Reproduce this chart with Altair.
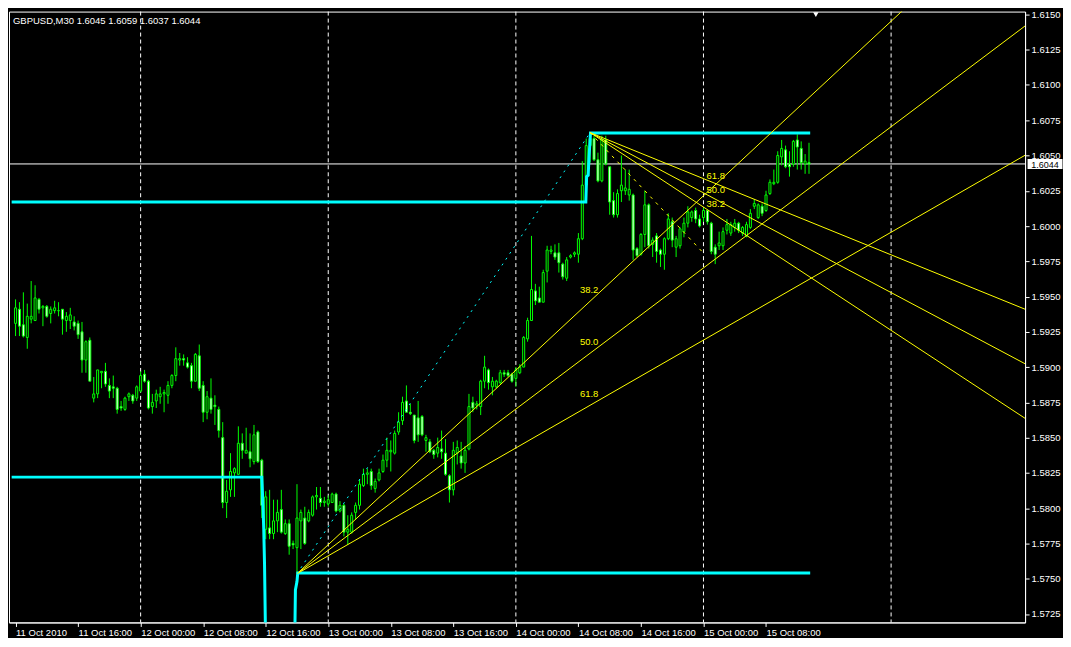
import altair as alt
import pandas as pd

W, H = 1018, 612

# ---- M30 candles, bar 0 = 11 Oct 2010 08:00 ----
opens = [1.5931, 1.5941, 1.5930, 1.5921, 1.5934, 1.5933, 1.5948, 1.5942, 1.5943, 1.5938,
         1.5940, 1.5940, 1.5941, 1.5933, 1.5933, 1.5932, 1.5931, 1.5925, 1.5905, 1.5919,
         1.5878, 1.5881, 1.5896, 1.5897, 1.5887, 1.5886, 1.5885, 1.5872, 1.5870, 1.5879,
         1.5880, 1.5878, 1.5883, 1.5895, 1.5890, 1.5872, 1.5876, 1.5879, 1.5881, 1.5880,
         1.5887, 1.5894, 1.5905, 1.5906, 1.5903, 1.5901, 1.5890, 1.5908, 1.5887, 1.5868,
         1.5878, 1.5873, 1.5870, 1.5850, 1.5804, 1.5813, 1.5825, 1.5824, 1.5846, 1.5839,
         1.5840, 1.5833, 1.5854, 1.5834, 1.5785, 1.5786, 1.5782, 1.5791, 1.5799, 1.5782,
         1.5789, 1.5775, 1.5772, 1.5791, 1.5793, 1.5791, 1.5795, 1.5808, 1.5807, 1.5804,
         1.5803, 1.5804, 1.5810, 1.5798, 1.5802, 1.5783, 1.5783, 1.5797, 1.5802, 1.5816,
         1.5824, 1.5826, 1.5814, 1.5820, 1.5826, 1.5834, 1.5840, 1.5839, 1.5854, 1.5862,
         1.5876, 1.5868, 1.5866, 1.5864, 1.5865, 1.5848, 1.5847, 1.5841, 1.5839, 1.5842,
         1.5839, 1.5823, 1.5813, 1.5839, 1.5837, 1.5832, 1.5842, 1.5875, 1.5873, 1.5872,
         1.5890, 1.5898, 1.5886, 1.5886, 1.5889, 1.5896, 1.5896, 1.5895, 1.5892, 1.5896,
         1.5900, 1.5920, 1.5933, 1.5954, 1.5949, 1.5946, 1.5968, 1.5982, 1.5981, 1.5981,
         1.5973, 1.5963, 1.5978, 1.5980, 1.5980, 1.5991, 1.6029, 1.6057, 1.6062, 1.6047,
         1.6032, 1.6061, 1.6042, 1.6018, 1.6008, 1.6025, 1.6025, 1.6022, 1.6022, 1.5984,
         1.5980, 1.5994, 1.6015, 1.5987, 1.5993, 1.5983, 1.5980, 1.5991, 1.6003, 1.5985,
         1.5986, 1.5996, 1.6002, 1.6006, 1.6011, 1.6005, 1.6006, 1.6011, 1.6002, 1.5985,
         1.5986, 1.5986, 1.5997, 1.5995, 1.5999, 1.6002, 1.5995, 1.5993, 1.5999, 1.6014,
         1.6006, 1.6014, 1.6011, 1.6023, 1.6030, 1.6031, 1.6049, 1.6054, 1.6044, 1.6044,
         1.6061, 1.6055, 1.6044, 1.6045]
highs = [1.5948, 1.5946, 1.5953, 1.5945, 1.5961, 1.5958, 1.5949, 1.5944, 1.5944, 1.5943,
         1.5947, 1.5946, 1.5941, 1.5939, 1.5942, 1.5936, 1.5933, 1.5932, 1.5919, 1.5921,
         1.5893, 1.5898, 1.5897, 1.5903, 1.5892, 1.5894, 1.5886, 1.5876, 1.5879, 1.5882,
         1.5881, 1.5887, 1.5897, 1.5898, 1.5891, 1.5881, 1.5884, 1.5886, 1.5884, 1.5890,
         1.5895, 1.5914, 1.5910, 1.5909, 1.5907, 1.5903, 1.5910, 1.5916, 1.5890, 1.5883,
         1.5892, 1.5880, 1.5872, 1.5861, 1.5820, 1.5839, 1.5829, 1.5858, 1.5853, 1.5857,
         1.5853, 1.5859, 1.5855, 1.5835, 1.5812, 1.5813, 1.5806, 1.5806, 1.5813, 1.5792,
         1.5792, 1.5777, 1.5817, 1.5799, 1.5801, 1.5799, 1.5809, 1.5815, 1.5815, 1.5808,
         1.5809, 1.5811, 1.5811, 1.5805, 1.5803, 1.5795, 1.5797, 1.5804, 1.5820, 1.5828,
         1.5828, 1.5828, 1.5821, 1.5828, 1.5838, 1.5850, 1.5848, 1.5855, 1.5868, 1.5879,
         1.5887, 1.5874, 1.5866, 1.5876, 1.5866, 1.5852, 1.5849, 1.5842, 1.5850, 1.5855,
         1.5849, 1.5824, 1.5847, 1.5848, 1.5847, 1.5844, 1.5881, 1.5879, 1.5876, 1.5891,
         1.5908, 1.5899, 1.5893, 1.5891, 1.5898, 1.5898, 1.5898, 1.5896, 1.5900, 1.5902,
         1.5922, 1.5935, 1.5993, 1.5959, 1.5957, 1.5969, 1.5986, 1.5986, 1.5987, 1.5988,
         1.5974, 1.5978, 1.5980, 1.5982, 1.5995, 1.6046, 1.6062, 1.6066, 1.6064, 1.6052,
         1.6064, 1.6064, 1.6042, 1.6024, 1.6026, 1.6050, 1.6040, 1.6040, 1.6023, 1.5985,
         1.5995, 1.6025, 1.6016, 1.5992, 1.5995, 1.5984, 1.5992, 1.6009, 1.6006, 1.5993,
         1.5999, 1.6006, 1.6014, 1.6011, 1.6013, 1.6008, 1.6013, 1.6011, 1.6003, 1.5987,
         1.5996, 1.5999, 1.6005, 1.6003, 1.6005, 1.6003, 1.6000, 1.6003, 1.6012, 1.6019,
         1.6016, 1.6016, 1.6025, 1.6033, 1.6040, 1.6053, 1.6061, 1.6057, 1.6053, 1.6061,
         1.6065, 1.6060, 1.6051, 1.6059]
lows = [1.5922, 1.5922, 1.5921, 1.5913, 1.5931, 1.5933, 1.5938, 1.5929, 1.5935, 1.5931,
        1.5938, 1.5936, 1.5923, 1.5925, 1.5927, 1.5926, 1.5920, 1.5896, 1.5896, 1.5890,
        1.5875, 1.5878, 1.5885, 1.5886, 1.5878, 1.5878, 1.5867, 1.5869, 1.5869, 1.5876,
        1.5874, 1.5876, 1.5882, 1.5889, 1.5870, 1.5867, 1.5871, 1.5874, 1.5868, 1.5874,
        1.5885, 1.5890, 1.5901, 1.5901, 1.5899, 1.5885, 1.5890, 1.5883, 1.5861, 1.5863,
        1.5867, 1.5859, 1.5850, 1.5800, 1.5793, 1.5808, 1.5808, 1.5824, 1.5835, 1.5839,
        1.5829, 1.5831, 1.5832, 1.5793, 1.5778, 1.5778, 1.5778, 1.5783, 1.5782, 1.5781,
        1.5767, 1.5771, 1.5754, 1.5771, 1.5774, 1.5790, 1.5794, 1.5799, 1.5801, 1.5801,
        1.5801, 1.5804, 1.5797, 1.5797, 1.5780, 1.5774, 1.5782, 1.5792, 1.5799, 1.5815,
        1.5817, 1.5813, 1.5811, 1.5819, 1.5825, 1.5829, 1.5826, 1.5838, 1.5852, 1.5859,
        1.5868, 1.5866, 1.5846, 1.5847, 1.5851, 1.5840, 1.5839, 1.5835, 1.5836, 1.5835,
        1.5823, 1.5804, 1.5809, 1.5831, 1.5828, 1.5825, 1.5841, 1.5868, 1.5870, 1.5866,
        1.5885, 1.5884, 1.5880, 1.5885, 1.5888, 1.5893, 1.5893, 1.5889, 1.5886, 1.5895,
        1.5900, 1.5918, 1.5933, 1.5944, 1.5946, 1.5946, 1.5960, 1.5980, 1.5976, 1.5967,
        1.5962, 1.5961, 1.5977, 1.5978, 1.5974, 1.5990, 1.6022, 1.6045, 1.6046, 1.6031,
        1.6031, 1.6043, 1.6008, 1.6006, 1.6006, 1.6017, 1.6022, 1.6018, 1.5976, 1.5978,
        1.5979, 1.5985, 1.5984, 1.5978, 1.5974, 1.5971, 1.5969, 1.5990, 1.5985, 1.5978,
        1.5984, 1.5992, 1.5999, 1.6003, 1.6002, 1.5999, 1.6003, 1.6001, 1.5980, 1.5973,
        1.5983, 1.5983, 1.5994, 1.5993, 1.5996, 1.5995, 1.5993, 1.5992, 1.5998, 1.6012,
        1.6005, 1.6007, 1.6010, 1.6022, 1.6029, 1.6030, 1.6043, 1.6041, 1.6035, 1.6042,
        1.6040, 1.6040, 1.6037, 1.6037]
closes = [1.5942, 1.5929, 1.5922, 1.5936, 1.5936, 1.5949, 1.5941, 1.5943, 1.5936, 1.5941,
          1.5942, 1.5940, 1.5934, 1.5936, 1.5937, 1.5929, 1.5923, 1.5905, 1.5918, 1.5890,
          1.5881, 1.5898, 1.5897, 1.5888, 1.5883, 1.5885, 1.5870, 1.5871, 1.5878, 1.5881,
          1.5876, 1.5886, 1.5894, 1.5890, 1.5871, 1.5875, 1.5881, 1.5881, 1.5882, 1.5887,
          1.5894, 1.5906, 1.5906, 1.5905, 1.5900, 1.5890, 1.5909, 1.5885, 1.5868, 1.5879,
          1.5870, 1.5872, 1.5855, 1.5804, 1.5812, 1.5826, 1.5828, 1.5846, 1.5841, 1.5841,
          1.5835, 1.5852, 1.5833, 1.5802, 1.5808, 1.5782, 1.5791, 1.5797, 1.5783, 1.5789,
          1.5773, 1.5774, 1.5793, 1.5797, 1.5775, 1.5797, 1.5808, 1.5809, 1.5804, 1.5805,
          1.5806, 1.5810, 1.5798, 1.5802, 1.5783, 1.5785, 1.5795, 1.5802, 1.5817, 1.5824,
          1.5825, 1.5816, 1.5819, 1.5825, 1.5834, 1.5841, 1.5841, 1.5853, 1.5861, 1.5875,
          1.5868, 1.5867, 1.5848, 1.5852, 1.5852, 1.5850, 1.5840, 1.5838, 1.5843, 1.5840,
          1.5824, 1.5813, 1.5841, 1.5843, 1.5832, 1.5841, 1.5872, 1.5871, 1.5874, 1.5890,
          1.5900, 1.5889, 1.5890, 1.5890, 1.5896, 1.5895, 1.5894, 1.5890, 1.5898, 1.5900,
          1.5921, 1.5933, 1.5955, 1.5947, 1.5946, 1.5967, 1.5983, 1.5983, 1.5978, 1.5974,
          1.5964, 1.5976, 1.5979, 1.5981, 1.5991, 1.6029, 1.6057, 1.6062, 1.6047, 1.6032,
          1.6061, 1.6044, 1.6017, 1.6008, 1.6023, 1.6029, 1.6027, 1.6026, 1.5983, 1.5979,
          1.5994, 1.6015, 1.5986, 1.5990, 1.5982, 1.5980, 1.5991, 1.6005, 1.5990, 1.5991,
          1.5998, 1.6002, 1.6010, 1.6010, 1.6005, 1.6000, 1.6011, 1.6003, 1.5982, 1.5980,
          1.5988, 1.5996, 1.6001, 1.6001, 1.6002, 1.5997, 1.5999, 1.6001, 1.6009, 1.6016,
          1.6015, 1.6009, 1.6022, 1.6031, 1.6031, 1.6050, 1.6055, 1.6042, 1.6042, 1.6060,
          1.6056, 1.6045, 1.6046, 1.6044]

# ---- axes ----
time_labels = ["11 Oct 2010", "11 Oct 16:00", "12 Oct 00:00", "12 Oct 08:00", "12 Oct 16:00",
               "13 Oct 00:00", "13 Oct 08:00", "13 Oct 16:00", "14 Oct 00:00", "14 Oct 08:00",
               "14 Oct 16:00", "15 Oct 00:00", "15 Oct 08:00"]
label_bars = [0, 16, 32, 48, 64, 80, 96, 112, 128, 144, 160, 176, 192]
separator_bars = [32, 80, 128, 176, 224]
price_ticks = [1.5725, 1.5750, 1.5775, 1.5800, 1.5825, 1.5850, 1.5875, 1.5900, 1.5925,
               1.5950, 1.5975, 1.6000, 1.6025, 1.6050, 1.6075, 1.6100, 1.6125, 1.6150]

bid_price = 1.6044
title_text = "GBPUSD,M30  1.6045 1.6059 1.6037 1.6044"
shift_marker_bar = 204.75

# ---- Fibonacci fans ----
fan_levels = [38.2, 50.0, 61.8]
fan1_bars = [72, 147]
fan1_prices = [1.57535, 1.60662]
fan2_bars = [147, 176]
fan2_prices = [1.60662, 1.59808]

# ---- cyan level lines ----
cyanA_bars = [-1, 145.9, 146.1, 146.5, 146.7, 147.1, 203.3]
cyanA_prices = [1.6017, 1.6017, 1.6035, 1.6036, 1.6048, 1.6066, 1.6066]
cyanB_bars = [-1, 63.0, 63.3, 63.5, 63.7, 64.0, 71.4, 71.6, 72.0, 72.2, 203.3]
cyanB_prices = [1.5822, 1.5822, 1.5802, 1.5785, 1.5760, 1.5700, 1.5700, 1.5742, 1.5748, 1.5754, 1.5754]

# ---------------------------------------------------------------
candles = pd.DataFrame({"bar": list(range(len(opens))), "open": opens, "high": highs,
                        "low": lows, "close": closes})

xs = alt.Scale(domain=[-0.4, 257], nice=False, zero=False)
ys = alt.Scale(domain=[1.5719, 1.6152], nice=False, zero=False)
label_expr = "[" + ",".join("'%s'" % t for t in time_labels) + "][round(datum.value/16)]"
xaxis = alt.Axis(values=label_bars, labelExpr=label_expr, title=None, grid=False,
                 labelAlign="left", labelBaseline="top", labelPadding=1, tickSize=4,
                 labelOverlap=False, labelFlush=False)
yaxis = alt.Axis(orient="right", values=price_ticks, format=".4f", title=None, grid=False,
                 tickSize=4, labelPadding=2, labelOverlap=False, labelFlush=False)


def X(field):
    return alt.X(field, type="quantitative", scale=xs, axis=xaxis)


def Y(field):
    return alt.Y(field, type="quantitative", scale=ys, axis=yaxis)


FONT = "Liberation Sans"

sep = alt.Chart(pd.DataFrame({"bar": separator_bars})).mark_rule(
    color="white", strokeWidth=1, strokeDash=[4, 3]).encode(x=X("bar"))

bidline = alt.Chart(pd.DataFrame({"price": [bid_price]})).mark_rule(
    color="white", strokeWidth=1).encode(y=Y("price"))

wicks = alt.Chart(candles).mark_rule(color="#00FF00", strokeWidth=1).encode(
    x=X("bar"), y=Y("low"), y2="high")

bodies = alt.Chart(candles).mark_bar(width=2, stroke="#00FF00", strokeWidth=1).encode(
    x=X("bar"), y=Y("open"), y2="close",
    fill=alt.condition("datum.open > datum.close", alt.value("white"), alt.value("black")))

cyan_rows = []
for name, bs, ps in (("A", cyanA_bars, cyanA_prices), ("B", cyanB_bars, cyanB_prices)):
    for k, (b, p) in enumerate(zip(bs, ps)):
        cyan_rows.append({"line": name, "seq": k, "bar": b, "price": p})
cyan = alt.Chart(pd.DataFrame(cyan_rows)).mark_line(
    color="#00FFFF", strokeWidth=3, clip=True, strokeJoin="miter").encode(
    x=X("bar"), y=Y("price"), detail="line:N", order="seq:Q")

fan_rows, lab_rows = [], []
for fname, fb, fp in (("f1", fan1_bars, fan1_prices), ("f2", fan2_bars, fan2_prices)):
    x1, x2 = fb
    p1, p2 = fp
    for r in fan_levels:
        lp = p2 + r / 100.0 * (p1 - p2)
        xend = 262
        pend = p1 + (lp - p1) * (xend - x1) / (x2 - x1)
        lid = "%s_%s" % (fname, r)
        fan_rows.append({"line": lid, "seq": 0, "bar": x1, "price": p1})
        fan_rows.append({"line": lid, "seq": 1, "bar": xend, "price": pend})
        lab_rows.append({"fan": fname, "bar": x2, "price": lp, "txt": "%.1f" % r})
fans = alt.Chart(pd.DataFrame(fan_rows)).mark_line(
    color="#FFFF00", strokeWidth=1, clip=True).encode(
    x=X("bar"), y=Y("price"), detail="line:N", order="seq:Q")

trend1 = alt.Chart(pd.DataFrame({"bar": fan1_bars, "price": fan1_prices})).mark_line(
    color="#00FFFF", strokeWidth=1, strokeDash=[2, 5], clip=True).encode(
    x=X("bar"), y=Y("price"))
trend2 = alt.Chart(pd.DataFrame({"bar": fan2_bars, "price": fan2_prices})).mark_line(
    color="#FFFF00", strokeWidth=1, strokeDash=[3, 5], clip=True).encode(
    x=X("bar"), y=Y("price"))

labs = pd.DataFrame(lab_rows)
lab1 = alt.Chart(labs[labs.fan == "f1"]).mark_text(
    color="#FFFF00", font=FONT, fontSize=9.5, align="center", baseline="middle",
    dx=-1, dy=-11).encode(x=X("bar"), y=Y("price"), text="txt:N")
lab2 = alt.Chart(labs[labs.fan == "f2"]).mark_text(
    color="#FFFF00", font=FONT, fontSize=9.5, align="left", baseline="middle",
    dx=3, dy=-3).encode(x=X("bar"), y=Y("price"), text="txt:N")

title = alt.Chart(pd.DataFrame({"t": [title_text]})).mark_text(
    color="white", font=FONT, fontSize=9.5, align="left", baseline="middle").encode(
    x=alt.value(4), y=alt.value(9), text="t:N")

tag_df = pd.DataFrame({"price": [bid_price], "t": ["%.4f" % bid_price]})
tag_box = alt.Chart(tag_df).mark_point(
    shape="M-1,-0.29L1,-0.29L1,0.29L-1,0.29Z", filled=True, color="white",
    opacity=1, size=1225, strokeWidth=0).encode(x=alt.value(W + 20), y=Y("price"))
tag_txt = alt.Chart(tag_df).mark_text(
    color="black", font=FONT, fontSize=9, align="center", baseline="middle", dy=1).encode(
    x=alt.value(W + 20), y=Y("price"), text="t:N")

marker = alt.Chart(pd.DataFrame({"bar": [shift_marker_bar]})).mark_point(
    shape="triangle-down", filled=True, color="white", opacity=1, size=30).encode(
    x=X("bar"), y=alt.value(3))

chart = alt.layer(
    sep, bidline, wicks, bodies, cyan, fans, trend1, trend2, lab1, lab2,
    title, tag_box, tag_txt, marker
).properties(
    width=W, height=H, background="black", padding=0
).configure_axis(
    labelColor="white", tickColor="white", domainColor="white",
    labelFont=FONT, labelFontSize=9.5
).configure_view(
    stroke="white", strokeWidth=1, fill="black"
)

chart.save("out.html", embed_options={"renderer": "svg", "actions": False})
